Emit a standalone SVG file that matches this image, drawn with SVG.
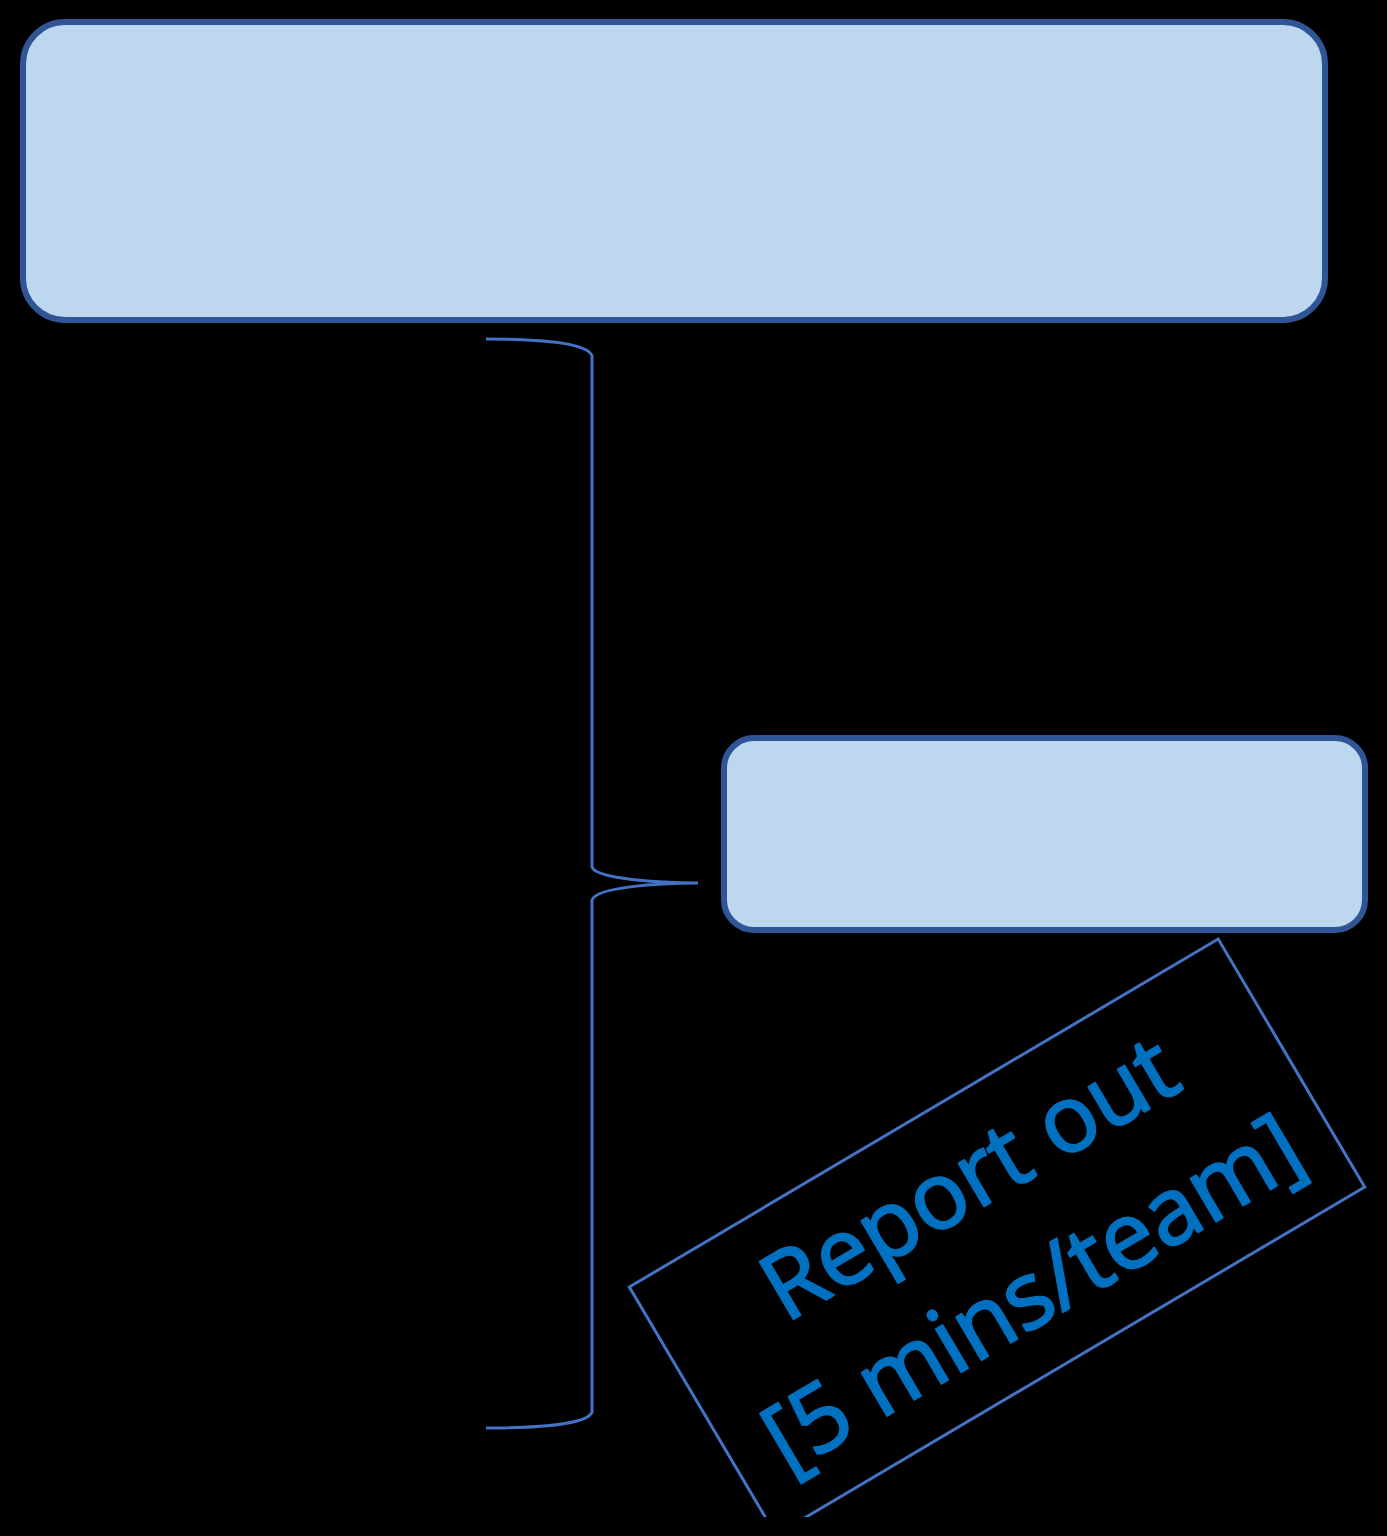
<svg xmlns="http://www.w3.org/2000/svg" width="1387" height="1536" viewBox="0 0 1387 1536">
  <style>
    .box { fill: #BDD7EE; stroke: #2F5597; stroke-width: 6; }
    .brace { fill: none; stroke: #4472C4; stroke-width: 3; }
    .stamp { fill: none; stroke: #4472C4; stroke-width: 3; }
    .stamptext { fill: #0070C0; stroke: #0070C0; stroke-width: 2.2; stroke-linejoin: round; font-family: "Open Sans", "Liberation Sans", sans-serif; font-size: 93px; text-anchor: middle; }
  </style>
  <defs>
    <clipPath id="pageclip">
      <rect x="0" y="0" width="1387" height="1517"/>
    </clipPath>
  </defs>
  <rect x="0" y="0" width="1387" height="1536" fill="#000000"/>
  <g id="top-box">
    <rect class="box" x="23" y="22" width="1302" height="298" rx="42" ry="42"/>
  </g>
  <g id="side-box">
    <rect class="box" x="724" y="738" width="641" height="192" rx="30" ry="30"/>
  </g>
  <g id="connectors">
    <path class="brace" d="M486,339 C540,339 588,343 592,356 L592,867 C596,879 660,883 698,883 C660,883 596,887 592,900 L592,1412 C588,1424 540,1428 486,1428"/>
  </g>
  <g id="report-out" clip-path="url(#pageclip)">
    <g transform="translate(997,1237) rotate(-30.58)">
      <rect class="stamp" x="-342" y="-144" width="684" height="288"/>
      <text class="stamptext" x="6" y="-33">Report out</text>
      <text class="stamptext" x="2" y="98">[5 mins/team]</text>
    </g>
  </g>
</svg>
